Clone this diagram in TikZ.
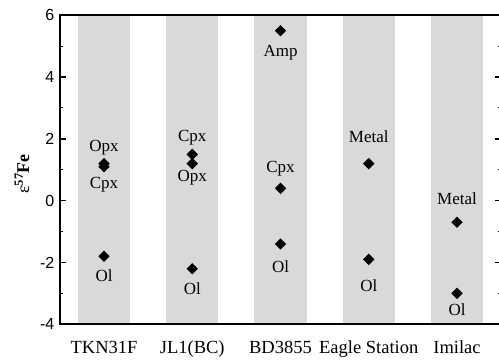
\documentclass[tikz,border=0pt]{standalone}
\usepackage{fontspec}
\setmainfont{Liberation Serif}
\newfontfamily\axisfont{Liberation Sans}
\usetikzlibrary{shapes.geometric}
\definecolor{bandgray}{RGB}{217,217,217}

\begin{document}
\begin{tikzpicture}[
    x=88.25pt, y=30.9pt,
    datum/.style={diamond, aspect=1, fill=black, inner sep=0pt, minimum size=11.5pt},
    mineral/.style={anchor=base, inner sep=0pt, font=\fontsize{17}{20}\selectfont},
    sample/.style={anchor=base, inner sep=0pt, font=\fontsize{18.5}{22}\selectfont},
    ticklab/.style={anchor=east, inner sep=0pt, font=\axisfont\fontsize{16}{18}\selectfont},
    frame/.style={line width=1.8pt},
    major/.style={line width=1.3pt},
    minor/.style={line width=1pt}
]
\clip (-1.1785,-5.155) rectangle (4.476,6.495);

% sample bands
\foreach \i in {0,...,4}
  \fill[bandgray] (\i-0.295,-4) rectangle (\i+0.295,6);

% axes
\draw[frame] (-0.5,-4) rectangle (4.5,6);
\foreach \v in {-4,-2,...,6} {
  \draw[major] (-0.5,\v) -- ++(6pt,0);
  \draw[major] (4.5,\v) -- ++(-6pt,0);
  \node[ticklab] (tick\v) at (-0.56,\v) {\v};
}
\foreach \v in {-3,-1,...,5} {
  \draw[minor] (-0.5,\v) -- ++(3pt,0);
  \draw[minor] (4.5,\v) -- ++(-3pt,0);
}
\node[rotate=90, inner sep=0pt, font=\fontsize{18}{20}\selectfont] (ylab) at (-0.93,0.864)
  {ε\textsuperscript{\bfseries 57}\textbf{Fe}};

% samples
\node[sample] (tkn) at (0,-4.96) {TKN31F};
\node[sample] (jl) at (1,-4.96) {JL1(BC)};
\node[sample] (bd) at (2,-4.96) {BD3855};
\node[sample] (es) at (3,-4.96) {Eagle Station};
\node[sample] (im) at (4,-4.96) {Imilac};

% TKN31F
\node[datum] (tknopx) at (0,1.2) {};
\node[datum] (tkncpx) at (0,1.1) {};
\node[datum] (tknol) at (0,-1.8) {};
\node[mineral] (tknopxl) at (0,1.58) {Opx};
\node[mineral] (tkncpxl) at (0,0.41) {Cpx};
\node[mineral] (tknoll) at (0,-2.60) {Ol};

% JL1(BC)
\node[datum] (jlcpx) at (1,1.5) {};
\node[datum] (jlopx) at (1,1.2) {};
\node[datum] (jlol) at (1,-2.2) {};
\node[mineral] (jlcpxl) at (1,1.90) {Cpx};
\node[mineral] (jlopxl) at (1,0.605) {Opx};
\node[mineral] (jloll) at (1,-3.05) {Ol};

% BD3855
\node[datum] (bdamp) at (2,5.5) {};
\node[datum] (bdcpx) at (2,0.4) {};
\node[datum] (bdol) at (2,-1.4) {};
\node[mineral] (bdampl) at (2,4.68) {Amp};
\node[mineral] (bdcpxl) at (2,0.90) {Cpx};
\node[mineral] (bdoll) at (2,-2.34) {Ol};

% Eagle Station
\node[datum] (esmet) at (3,1.2) {};
\node[datum] (esol) at (3,-1.9) {};
\node[mineral] (esmetl) at (3,1.87) {Metal};
\node[mineral] (esoll) at (3,-2.95) {Ol};

% Imilac
\node[datum] (immet) at (4,-0.7) {};
\node[datum] (imol) at (4,-3.0) {};
\node[mineral] (immetl) at (4,-0.11) {Metal};
\node[mineral] (imoll) at (4,-3.73) {Ol};
\end{tikzpicture}
\end{document}
